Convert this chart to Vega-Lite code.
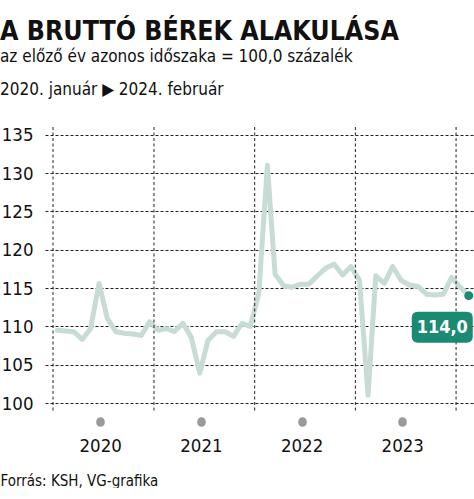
{
  "$schema": "https://vega.github.io/schema/vega-lite/v6.json",
  "width": 429,
  "height": 286,
  "padding": {"left": 0, "top": 19, "right": 0, "bottom": 0},
  "background": "white",
  "title": {
    "text": "A BRUTTÓ BÉREK ALAKULÁSA",
    "subtitle": ["az előző év azonos időszaka = 100,0 százalék", "2020. január ▶ 2024. február"],
    "anchor": "start",
    "frame": "bounds",
    "font": "DejaVu Sans Condensed, sans-serif",
    "fontSize": 26.5,
    "fontWeight": "bold",
    "color": "#111111",
    "subtitleFont": "DejaVu Sans Condensed, sans-serif",
    "subtitleFontSize": 17,
    "subtitleColor": "#111111",
    "subtitleLineHeight": 33.5,
    "subtitlePadding": 3,
    "offset": 27.5
  },
  "datasets": {
    "wage": [
      {"date": "2020-01-16", "value": 109.5},
      {"date": "2020-02-16", "value": 109.4},
      {"date": "2020-03-16", "value": 109.3},
      {"date": "2020-04-16", "value": 108.3},
      {"date": "2020-05-16", "value": 109.7},
      {"date": "2020-06-16", "value": 115.6},
      {"date": "2020-07-16", "value": 111.0},
      {"date": "2020-08-16", "value": 109.3},
      {"date": "2020-09-16", "value": 109.1},
      {"date": "2020-10-16", "value": 109.0},
      {"date": "2020-11-16", "value": 108.8},
      {"date": "2020-12-16", "value": 110.6},
      {"date": "2021-01-16", "value": 109.5},
      {"date": "2021-02-16", "value": 109.7},
      {"date": "2021-03-16", "value": 109.3},
      {"date": "2021-04-16", "value": 110.4},
      {"date": "2021-05-16", "value": 108.6},
      {"date": "2021-06-16", "value": 103.9},
      {"date": "2021-07-16", "value": 108.2},
      {"date": "2021-08-16", "value": 109.3},
      {"date": "2021-09-16", "value": 109.3},
      {"date": "2021-10-16", "value": 108.7},
      {"date": "2021-11-16", "value": 110.4},
      {"date": "2021-12-16", "value": 110.0},
      {"date": "2022-01-16", "value": 114.3},
      {"date": "2022-02-16", "value": 131.0},
      {"date": "2022-03-16", "value": 116.8},
      {"date": "2022-04-16", "value": 115.3},
      {"date": "2022-05-16", "value": 115.1},
      {"date": "2022-06-16", "value": 115.5},
      {"date": "2022-07-16", "value": 115.5},
      {"date": "2022-08-16", "value": 116.6},
      {"date": "2022-09-16", "value": 117.6},
      {"date": "2022-10-16", "value": 118.1},
      {"date": "2022-11-16", "value": 116.7},
      {"date": "2022-12-16", "value": 117.8},
      {"date": "2023-01-16", "value": 116.0},
      {"date": "2023-02-16", "value": 101.0},
      {"date": "2023-03-16", "value": 116.6},
      {"date": "2023-04-16", "value": 115.6},
      {"date": "2023-05-16", "value": 117.8},
      {"date": "2023-06-16", "value": 116.0},
      {"date": "2023-07-16", "value": 115.4},
      {"date": "2023-08-16", "value": 115.2},
      {"date": "2023-09-16", "value": 114.2},
      {"date": "2023-10-16", "value": 114.1},
      {"date": "2023-11-16", "value": 114.2},
      {"date": "2023-12-16", "value": 116.4},
      {"date": "2024-01-16", "value": 115.1},
      {"date": "2024-02-16", "value": 114.0}
    ],
    "years": [
      {"date": "2020-01-01"},
      {"date": "2021-01-01"},
      {"date": "2022-01-01"},
      {"date": "2023-01-01"},
      {"date": "2024-01-01"}
    ]
  },
  "encoding": {
    "x": {
      "field": "date",
      "type": "temporal",
      "scale": {"domain": [{"year": 2019, "month": 12, "date": 3}, {"year": 2024, "month": 3, "date": 6}]},
      "axis": {
        "values": [
          {"year": 2020, "month": 6, "date": 20},
          {"year": 2021, "month": 6, "date": 20},
          {"year": 2022, "month": 6, "date": 20},
          {"year": 2023, "month": 6, "date": 20}
        ],
        "format": "%Y",
        "grid": false,
        "domain": false,
        "ticks": true,
        "tickSize": 1,
        "tickWidth": 8.5,
        "tickCap": "round",
        "tickColor": "#9a9a9a",
        "offset": 8,
        "labelFont": "DejaVu Sans Condensed, sans-serif",
        "labelFontSize": 18.5,
        "labelColor": "#111111",
        "labelPadding": 14.5,
        "title": "Forrás: KSH, VG-grafika",
        "titleFont": "DejaVu Sans Condensed, sans-serif",
        "titleFontSize": 15,
        "titleFontWeight": "normal",
        "titleColor": "#111111",
        "titleAnchor": "start",
        "titleAlign": "left",
        "titleBaseline": "alphabetic",
        "titleX": -45,
        "titleY": 64
      }
    },
    "y": {
      "field": "value",
      "type": "quantitative",
      "scale": {"domain": [98.7, 136], "nice": false, "zero": false},
      "axis": {
        "values": [100, 105, 110, 115, 120, 125, 130, 135],
        "grid": true,
        "gridColor": "#222222",
        "gridDash": [3, 2],
        "gridWidth": 1,
        "domain": false,
        "ticks": false,
        "labelPadding": 12,
        "labelFont": "DejaVu Sans Condensed, sans-serif",
        "labelFontSize": 18.5,
        "labelColor": "#111111",
        "title": null
      }
    }
  },
  "layer": [
    {
      "data": {"name": "wage"},
      "mark": {"type": "line", "color": "#c7dcd4", "strokeWidth": 5, "strokeJoin": "round", "strokeCap": "round"}
    },
    {
      "data": {"name": "years"},
      "mark": {"type": "rule", "color": "#222222", "strokeWidth": 1, "strokeDash": [3, 2.5]},
      "encoding": {"y": {"value": 0}, "y2": {"expr": "height"}}
    },
    {
      "data": {"name": "wage"},
      "transform": [{"filter": {"field": "date", "timeUnit": "yearmonth", "equal": {"year": 2024, "month": 2}}}],
      "mark": {"type": "point", "filled": true, "opacity": 1, "color": "#1b8a73", "size": 80, "shape": "circle"}
    },
    {
      "data": {"name": "wage"},
      "transform": [{"filter": {"field": "date", "timeUnit": "yearmonth", "equal": {"year": 2024, "month": 2}}}],
      "mark": {
        "type": "point",
        "filled": true,
        "opacity": 1,
        "color": "#1b8a73",
        "size": 3721,
        "shape": "M -0.8 -0.508 L 0.8 -0.508 Q 1 -0.508 1 -0.308 L 1 0.308 Q 1 0.508 0.8 0.508 L -0.8 0.508 Q -1 0.508 -1 0.308 L -1 -0.308 Q -1 -0.508 -0.8 -0.508 Z",
        "xOffset": -26.5,
        "yOffset": 31.5
      }
    },
    {
      "data": {"name": "wage"},
      "transform": [{"filter": {"field": "date", "timeUnit": "yearmonth", "equal": {"year": 2024, "month": 2}}}],
      "mark": {
        "type": "text",
        "color": "white",
        "font": "DejaVu Sans Condensed, sans-serif",
        "fontSize": 18,
        "fontWeight": "bold",
        "align": "center",
        "baseline": "middle",
        "xOffset": -26.5,
        "yOffset": 32
      },
      "encoding": {
        "text": {"field": "value", "type": "quantitative", "format": ".1f"}
      }
    }
  ],
  "config": {
    "view": {"stroke": null},
    "locale": {"number": {"decimal": ",", "thousands": " ", "grouping": [3], "currency": ["", " Ft"]}}
  }
}
